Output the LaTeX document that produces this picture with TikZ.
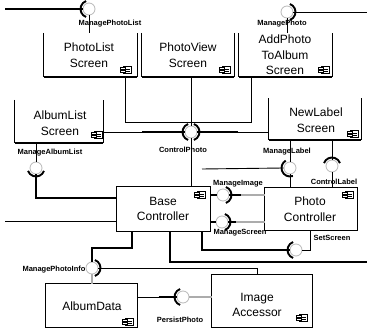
\documentclass[tikz,border=0pt]{standalone}
\usepackage{fontspec}
\setmainfont{Liberation Sans}
\usetikzlibrary{calc}
\begin{document}
\begin{tikzpicture}[x=1pt,y=-1pt]
\tikzset{
 boxn/.style={rectangle, inner sep=0pt},
 edg/.style={line width=0.8pt},
 thk/.style={line width=1.8pt},
 thn/.style={line width=0.9pt},
 gry/.style={line width=1.1pt, draw=gray!65},
 iface/.style={circle, draw=gray!55, line width=0.8pt, minimum size=12pt, inner sep=0pt},
 sock/.style={line width=1.9pt},
 lbl/.style={font=\fontsize{7.5}{8}\selectfont\bfseries, inner sep=0pt},
 txt/.style={font=\fontsize{12}{15.5}\selectfont, align=center, inner sep=0pt},
 comp/.pic={
   \draw[line width=0.6pt] (-3,-3.5) rectangle (5,3.5);
   \draw[line width=0.6pt,fill=white] (-5.5,-2.2) rectangle (-1,-0.6);
   \draw[line width=0.6pt,fill=white] (-5.5,0.6) rectangle (-1,2.2);
   \draw[line width=0.5pt] (0,-1) -- (4,-1) (0,1) -- (4,1);
 }
}
\fill[white] (0,0) rectangle (367,328);
\useasboundingbox (0,0) rectangle (367,328);

% ---- boxes
\node[boxn, minimum width=93pt, minimum height=44pt] (pl) at (90.5,55) {};
\node[boxn, minimum width=92pt, minimum height=44pt] (pv) at (188,55) {};
\node[boxn, minimum width=93pt, minimum height=44pt] (ap) at (285.5,55) {};
\node[boxn, minimum width=88pt, minimum height=43pt] (al) at (59,121.5) {};
\node[boxn, minimum width=92pt, minimum height=41pt] (nl) at (315,119) {};
\node[boxn, minimum width=93pt, minimum height=44pt] (bc) at (163.5,209) {};
\node[boxn, minimum width=92pt, minimum height=42pt] (pc) at (311,209) {};
\node[boxn, minimum width=91pt, minimum height=43pt] (ad) at (91.5,305.5) {};
\node[boxn, minimum width=100pt, minimum height=52pt] (ia) at (262,301) {};

\foreach \b in {pl,pv,ap,al,nl}{
  \draw[edg] (\b.north west) -- (\b.south west);
  \draw[edg] (\b.south east) -- (\b.north east);
  \draw[thk] (\b.south west) -- (\b.south east);
}
\foreach \b in {bc,pc,ad,ia}{
  \draw[edg] (\b.north west) rectangle (\b.south east);
}

% ---- box texts
\node[txt] (plt) at (89,55) {PhotoList\\Screen};
\node[txt] (pvt) at (188,55) {PhotoView\\Screen};
\node[txt] (apt) at (285,55) {AddPhoto\\ToAlbum\\Screen};
\node[txt] (alt) at (60,123) {AlbumList\\Screen};
\node[txt] (nlt) at (316,120) {NewLabel\\Screen};
\node[txt] (bct) at (163,209) {Base\\Controller};
\node[txt] (pct) at (310,209) {Photo\\Controller};
\node[txt] (adt) at (92,306) {AlbumData};
\node[txt] (iat) at (257,305) {Image\\Accessor};

\pic at (126,70) {comp};
\pic at (225,70) {comp};
\pic at (324,70) {comp};
\pic at (97,135) {comp};
\pic at (353,134) {comp};
\pic at (200,195) {comp};
\pic at (348,195) {comp};
\pic at (128,322) {comp};
\pic at (302,318) {comp};

% ---- interfaces
\node[iface] (mpl) at (89,9) {};
\node[iface] (mp) at (287,12) {};
\node[iface] (cph) at (191,132) {};
\node[iface] (mal) at (36,168) {};
\node[iface] (ml) at (290,168) {};
\node[iface] (cl) at (332,166) {};
\node[iface] (mi) at (223,195) {};
\node[iface] (ms) at (222,222) {};
\node[iface] (ss) at (296,250) {};
\node[iface] (mpi) at (92,268) {};
\node[iface] (pp) at (183,297) {};

\coordinate (tl) at (5,9);
\coordinate (tr) at (367,12);
\coordinate (lft) at (5,221);
\coordinate (mlL) at (202,169);
\coordinate (rgt) at (367,262);

% ---- connectors
\draw[thk] (tl) -- (mpl.west);
\draw[thn] (mpl.south) -- (mpl.south |- pl.north);
\draw[thn] (mp.east) -- (tr);
\draw[thn] (mp.south) -- (mp.south |- ap.north);

\draw[thn] ($(pl.south east)+(-12,0)$) |- ($(cph)+(0,-10)$);
\draw[thn] (pv.south -| cph) -- (cph.north);
\draw[thn] ($(ap.south west)+(13,0)$) |- ($(cph)+(0,-10)$);
\draw[thn] (al.east |- cph) -- (cph.west);
\draw[thk] ($(cph)+(-49,0)$) -- (cph.west);
\draw[thn] (cph.east) -- (cph -| nl.west);
\draw[thk] (cph.east) -- ($(cph)+(47,0)$);
\draw[thn] (cph.south) -- (cph.south |- bc.north);

\draw[thn] (al.south -| mal) -- (mal.north);
\draw[thk] (mal.south) |- ($(bc.north west)+(0,11)$);
\draw[thn] (lft) -- (lft -| bc.west);

\draw[thn] (nl.south -| ml) -- (ml.north);
\draw[thn] (ml.south) -- (ml.south |- pc.north);
\draw[thn] (mlL) -- (ml.west);
\draw[thn] (nl.south -| cl) -- (cl.north);
\draw[thn] (cl.south) -- (cl.south |- pc.north);

\draw[thk] (mi -| bc.east) -- (mi.west);
\draw[gry] (mi.east) -- (mi -| pc.west);
\draw[thk] (mi.east) -- ++(12,0);
\draw[thk] (ms -| bc.east) -- (ms.west);
\draw[gry] (ms.east) -- (ms -| pc.west);
\draw[thk] (ms.east) -- ++(8,0);

\draw[thk] ($(bc.south east)+(-8,0)$) |- (ss.west);
\draw[thn] (ss.east) -| ($(pc.south west)+(46,0)$);

\draw[thk] ($(bc.south west)+(53,0)$) |- (rgt);

\draw[thk] ($(bc.south west)+(15,0)$) |- ($(mpi)+(0,-20)$) -- (mpi.north);
\draw[thn] (mpi.east) -| ($(ia.north west)+(46,0)$);
\draw[gry] (mpi.south) -- (mpi.south |- ad.north);

\draw[thn] (pp -| ad.east) -- (pp.west);
\draw[thk] ($(pp.west)+(-18,0)$) -- (pp.west);
\draw[gry] (pp.east) -- (pp -| ia.west);

% ---- sockets
\draw[sock] (mpl) ++(110:8.5) arc[start angle=110,end angle=250,radius=8.5];
\draw[sock] (mp) ++(-70:8.5) arc[start angle=-70,end angle=70,radius=8.5];
\draw[sock] (cph) ++(110:8.5) arc[start angle=110,end angle=250,radius=8.5];
\draw[sock] (cph) ++(-70:8.5) arc[start angle=-70,end angle=70,radius=8.5];
\draw[sock] (mal) ++(20:8.5) arc[start angle=20,end angle=160,radius=8.5];
\draw[sock] (ml) ++(70:8.5) arc[start angle=70,end angle=240,radius=8.5];
\draw[sock] (cl) ++(200:8.5) arc[start angle=200,end angle=340,radius=8.5];
\draw[sock] (mi) ++(-70:8.5) arc[start angle=-70,end angle=70,radius=8.5];
\draw[sock] (ms) ++(-70:8.5) arc[start angle=-70,end angle=70,radius=8.5];
\draw[sock] (ss) ++(110:8.5) arc[start angle=110,end angle=250,radius=8.5];
\draw[sock] (mpi) ++(-70:8.5) arc[start angle=-70,end angle=70,radius=8.5];
\draw[sock] (pp) ++(110:8.5) arc[start angle=110,end angle=250,radius=8.5];

% ---- interface labels
\node[lbl] (lmpl) at (110,24) {ManagePhotoList};
\node[lbl] (lmp) at (282,24) {ManagePhoto};
\node[lbl] (lcph) at (183,150) {ControlPhoto};
\node[lbl] (lmal) at (50,153) {ManageAlbumList};
\node[lbl] (lml) at (287,152) {ManageLabel};
\node[lbl] (lcl) at (334,182) {ControlLabel};
\node[lbl] (lmi) at (238,184) {ManageImage};
\node[lbl] (lms) at (240,233) {ManageScreen};
\node[lbl] (lss) at (332,238) {SetScreen};
\node[lbl] (lmpi) at (54,270) {ManagePhotoInfo};
\node[lbl] (lpp) at (180,320) {PersistPhoto};
\end{tikzpicture}
\end{document}
